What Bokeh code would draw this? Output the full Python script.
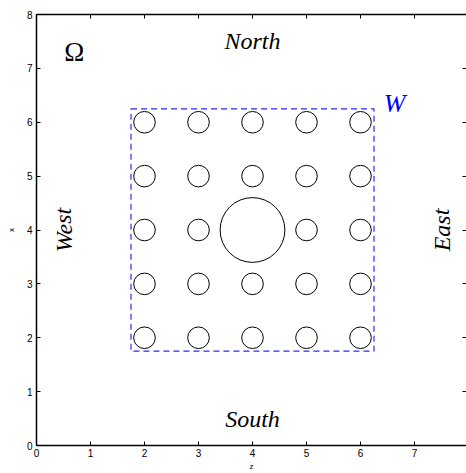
from bokeh.plotting import figure
from bokeh.models import LinearAxis, Range1d, FixedTicker, Label
from bokeh.embed import file_html
from bokeh.resources import INLINE

# ---- data ----
grid_vals = [2, 3, 4, 5, 6]
small_x = []
small_y = []
for yy in grid_vals:
    for xx in grid_vals:
        if not (xx == 4 and yy == 4):
            small_x.append(xx)
            small_y.append(yy)
small_r = 0.2
big_x = [4]
big_y = [4]
big_r = 0.6
box_lo = 1.75
box_hi = 6.25
ticks = [0, 1, 2, 3, 4, 5, 6, 7, 8]
region_labels = ["North", "South", "West", "East"]
region_x = [4, 4, 0.5, 7.5]
region_y = [7.5, 0.5, 4, 4]
region_angle = [0, 0, 1.5708, 1.5708]

FRAME_W = 430
PX_PER_UNIT = 54

p = figure(width=466, height=473, output_backend="svg", toolbar_location=None,
           x_range=Range1d(0, FRAME_W / PX_PER_UNIT), y_range=Range1d(0, 8),
           min_border_left=36, min_border_right=0, min_border_top=14, min_border_bottom=27,
           x_axis_label="z", y_axis_label="x")
p.grid.visible = False
p.outline_line_color = None
p.background_fill_color = "white"
p.border_fill_color = "white"

for ax in [p.xaxis[0], p.yaxis[0]]:
    ax.ticker = FixedTicker(ticks=ticks)
    ax.major_tick_in = 4
    ax.major_tick_out = 0
    ax.minor_tick_line_color = None
    ax.major_tick_line_color = "black"
    ax.axis_line_color = "black"
    ax.axis_line_width = 1.5
    ax.major_label_text_font = "Liberation Sans"
    ax.major_label_text_font_size = "10px"
    ax.major_label_text_color = "black"
    ax.axis_label_text_font = "Liberation Sans"
    ax.axis_label_text_font_size = "8px"
    ax.axis_label_text_font_style = "normal"
    ax.axis_label_text_color = "black"
    ax.axis_label_standoff = 2
    ax.major_label_standoff = 3

p.yaxis[0].major_label_standoff = 4
p.yaxis[0].axis_label_standoff = 8

blank = {t: "" for t in ticks}
top = LinearAxis(ticker=FixedTicker(ticks=ticks), major_tick_in=4, major_tick_out=0,
                 minor_tick_line_color=None, major_label_overrides=blank,
                 major_label_standoff=0, axis_line_width=1.5)
right = LinearAxis(ticker=FixedTicker(ticks=ticks), major_tick_in=4, major_tick_out=0,
                   minor_tick_line_color=None, major_label_overrides=blank,
                   major_label_standoff=0, axis_line_color=None)
p.add_layout(top, "above")
p.add_layout(right, "right")

# dashed domain W
p.quad(left=[box_lo], right=[box_hi], bottom=[box_lo], top=[box_hi],
       fill_color=None, line_color="#2a2aff", line_dash="6 4", line_width=1.2)

# small inclusions
p.circle(x=small_x, y=small_y, radius=small_r, fill_color=None,
         line_color="black", line_width=1)
# big inclusion
p.circle(x=big_x, y=big_y, radius=big_r, fill_color=None,
         line_color="black", line_width=1)

for t, xx, yy, ang in zip(region_labels, region_x, region_y, region_angle):
    p.add_layout(Label(x=xx, y=yy, text=t, angle=ang, text_font="Liberation Serif",
                       text_font_style="italic", text_font_size="24px",
                       text_align="center", text_baseline="middle", text_color="black"))

p.add_layout(Label(x=0.7, y=7.3, text="Ω", text_font="Liberation Serif",
                   text_font_size="27px", text_align="center", text_baseline="middle",
                   text_color="black"))
p.add_layout(Label(x=6.63, y=6.35, text="W", text_font="Liberation Serif",
                   text_font_style="italic", text_font_size="26px",
                   text_align="center", text_baseline="middle", text_color="#0000ff"))

open("out.html", "w").write(file_html(p, INLINE))
